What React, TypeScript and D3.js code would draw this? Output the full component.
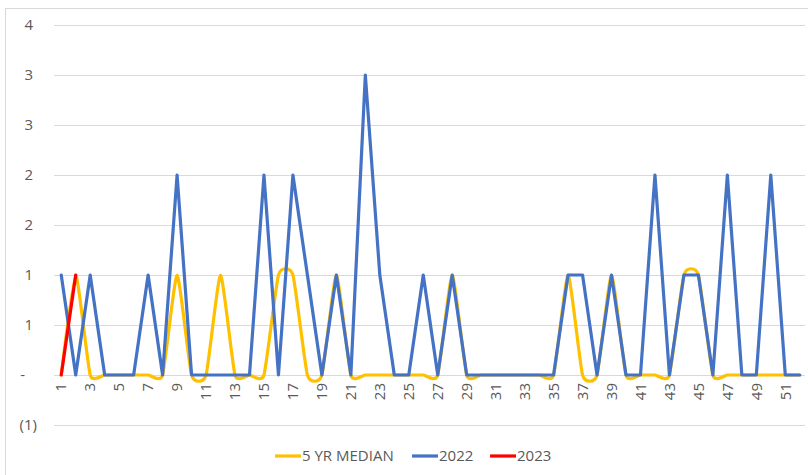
import * as d3 from "d3";
import React, { useEffect, useRef } from "react";

const weeks: number[] = d3.range(1, 53);

const median5yr: number[] = [
  0, 1, 0, 0, 0, 0, 0, 0, 1, 0, 0, 1, 0, 0, 0, 1, 1, 0, 0, 1, 0, 0, 0, 0, 0, 0,
  0, 1, 0, 0, 0, 0, 0, 0, 0, 1, 0, 0, 1, 0, 0, 0, 0, 1, 1, 0, 0, 0, 0, 0, 0, 0,
];

const y2022: number[] = [
  1, 0, 1, 0, 0, 0, 1, 0, 2, 0, 0, 0, 0, 0, 2, 0, 2, 1, 0, 1, 0, 3, 1, 0, 0, 1,
  0, 1, 0, 0, 0, 0, 0, 0, 0, 1, 1, 0, 1, 0, 0, 2, 0, 1, 1, 0, 2, 0, 0, 2, 0, 0,
];

const y2023: number[] = [0, 1];

const yTicks: number[] = [-0.5, 0, 0.5, 1, 1.5, 2, 2.5, 3, 3.5];

const seriesNames = ["5 YR MEDIAN", "2022", "2023"];
const seriesColors = ["#FFC000", "#4472C4", "#FF0000"];

// Excel style "#,##0_);(#,##0);-" labels
const fmt = (v: number) => {
  const r = Math.round(Math.abs(v));
  if (v === 0) return "-";
  return v < 0 ? `(${r})` : `${r}`;
};

const App: React.FC = () => {
  const ref = useRef<SVGSVGElement>(null);

  useEffect(() => {
    const width = 808;
    const height = 475;
    const margin = { top: 25, right: 1, bottom: 50, left: 54 };

    d3.select(ref.current).selectAll("*").remove();

    const svg = d3.select(ref.current)
      .attr("width", width)
      .attr("height", height)
      .style("font-family", "'Open Sans', 'Liberation Sans', sans-serif");

    // chart frame
    svg.append("rect")
      .attr("x", 5.5)
      .attr("y", 8.5)
      .attr("width", width + 10)
      .attr("height", height + 10)
      .attr("fill", "#ffffff")
      .attr("stroke", "#d9d9d9")
      .attr("stroke-width", 1);

    const x = d3.scaleBand<number>()
      .domain(weeks)
      .range([margin.left, width - margin.right]);

    const cx = (w: number) => x(w)! + x.bandwidth() / 2;

    const y = d3.scaleLinear()
      .domain([-0.5, 3.5])
      .range([height - margin.bottom, margin.top]);

    // gridlines
    svg.append("g")
      .selectAll("line")
      .data(yTicks)
      .enter()
      .append("line")
      .attr("x1", margin.left)
      .attr("x2", width - margin.right - 2)
      .attr("y1", (d) => Math.round(y(d)) + 0.5)
      .attr("y2", (d) => Math.round(y(d)) + 0.5)
      .attr("stroke", "#d9d9d9")
      .attr("stroke-width", 1);

    // y labels
    svg.append("g")
      .selectAll("text")
      .data(yTicks)
      .enter()
      .append("text")
      .attr("x", (d) => (d < 0 ? 37 : d === 0 ? 25 : 33))
      .attr("y", (d) => y(d))
      .attr("dy", "0.35em")
      .attr("text-anchor", "end")
      .attr("fill", "#595959")
      .style("font-size", "15px")
      .text((d) => fmt(d));

    // x labels (odd weeks), rotated
    svg.append("g")
      .selectAll("text")
      .data(weeks.filter((w) => w % 2 === 1))
      .enter()
      .append("text")
      .attr("transform", (d) => `translate(${cx(d)},${y(0) + 8}) rotate(-90)`)
      .attr("dy", "0.35em")
      .attr("text-anchor", "end")
      .attr("fill", "#595959")
      .style("font-size", "15px")
      .text((d) => d);

    // lines
    const smooth = d3.line<number>()
      .x((_, i) => cx(weeks[i]))
      .y((d) => y(d))
      .curve(d3.curveCardinal.tension(0.5));

    const straight = d3.line<number>()
      .x((_, i) => cx(weeks[i]))
      .y((d) => y(d));

    svg.append("path")
      .datum(median5yr)
      .attr("d", smooth)
      .attr("fill", "none")
      .attr("stroke", seriesColors[0])
      .attr("stroke-width", 3.2)
      .attr("stroke-linejoin", "round")
      .attr("stroke-linecap", "round");

    svg.append("path")
      .datum(y2022)
      .attr("d", straight)
      .attr("fill", "none")
      .attr("stroke", seriesColors[1])
      .attr("stroke-width", 3.2)
      .attr("stroke-linejoin", "round")
      .attr("stroke-linecap", "round");

    svg.append("path")
      .datum(y2023)
      .attr("d", straight)
      .attr("fill", "none")
      .attr("stroke", seriesColors[2])
      .attr("stroke-width", 3.2)
      .attr("stroke-linejoin", "round")
      .attr("stroke-linecap", "round");

    // legend
    const legendX = [275, 412, 490];
    const legend = svg.append("g");
    seriesNames.forEach((name, i) => {
      const g = legend.append("g").attr("transform", `translate(${legendX[i]},456)`);
      g.append("line")
        .attr("x1", 0)
        .attr("x2", 26)
        .attr("y1", 0)
        .attr("y2", 0)
        .attr("stroke", seriesColors[i])
        .attr("stroke-width", 3.2);
      g.append("text")
        .attr("x", 27)
        .attr("y", 0)
        .attr("dy", "0.35em")
        .attr("fill", "#595959")
        .style("font-size", "15px")
        .text(name);
    });
  }, []);

  return (
    <div style={{ position: "absolute", left: 0, top: 0 }}>
      <svg ref={ref}></svg>
    </div>
  );
};

export default App;
